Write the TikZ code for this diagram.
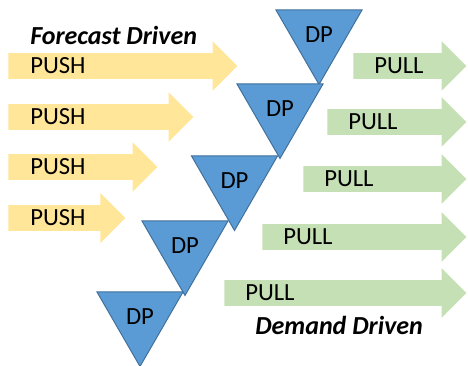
\documentclass[tikz,border=0pt]{standalone}
\usepackage{fontspec}
\setmainfont{Carlito}
\usetikzlibrary{shapes,arrows,positioning}
\definecolor{pushyellow}{HTML}{FFE699}
\definecolor{pullgreen}{HTML}{C5E0B4}
\definecolor{dpblue}{HTML}{5B9BD5}
\definecolor{dpedge}{HTML}{41719C}

\begin{document}
\begin{tikzpicture}[x=0.75pt, y=-0.75pt,
    flow/.style={single arrow, single arrow head extend=9pt, single arrow head indent=0pt,
        inner xsep=0pt, inner ysep=9.375pt, anchor=tail, minimum height=#1*0.75pt},
    push/.style={flow=#1, fill=pushyellow},
    pull/.style={flow=#1, fill=pullgreen},
    word/.style={inner sep=0pt, anchor=west, font=\fontsize{18.5}{20}\selectfont},
    dp/.style={regular polygon, regular polygon sides=3, shape border rotate=180,
        minimum size=74.5pt, inner sep=0pt, draw=dpedge, line width=0.75pt, fill=dpblue,
        font=\fontsize{18.5}{20}\selectfont},
    heading/.style={inner sep=0pt, anchor=west, font=\fontsize{19.5}{22}\selectfont\bfseries\itshape}]
    \useasboundingbox (0,0) rectangle (468,365);

    % push side
    \node[push=229] (push1) at (8,66) {};
    \node[push=185] (push2) at (8,117) {};
    \node[push=149] (push3) at (8,167) {};
    \node[push=117] (push4) at (8,218) {};
    \node[word] (pushtxt1) at ([xshift=16.5pt]push1.tail) {PUSH};
    \node[word] (pushtxt2) at ([xshift=16.5pt]push2.tail) {PUSH};
    \node[word] (pushtxt3) at ([xshift=16.5pt]push3.tail) {PUSH};
    \node[word] (pushtxt4) at ([xshift=16.5pt]push4.tail) {PUSH};

    % pull side
    \node[pull=113] (pull1) at (353,66) {};
    \node[pull=139] (pull2) at (327,122) {};
    \node[pull=163] (pull3) at (303,179) {};
    \node[pull=204] (pull4) at (262,237) {};
    \node[pull=242] (pull5) at (224,293) {};
    \node[word] (pulltxt1) at ([xshift=15.75pt]pull1.tail) {PULL};
    \node[word] (pulltxt2) at ([xshift=15.75pt]pull2.tail) {PULL};
    \node[word] (pulltxt3) at ([xshift=15.75pt]pull3.tail) {PULL};
    \node[word] (pulltxt4) at ([xshift=15.75pt]pull4.tail) {PULL};
    \node[word] (pulltxt5) at ([xshift=15.75pt]pull5.tail) {PULL};

    % decoupling points
    \node[dp] (dp1) at (319,34.8) {DP};
    \node[dp] (dp2) at (280,108.8) {DP};
    \node[dp] (dp3) at (234.5,180.8) {DP};
    \node[dp] (dp4) at (185,245.8) {DP};
    \node[dp] (dp5) at (140,316.8) {DP};

    \node[heading] (forecast) at (30,35.5) {Forecast Driven};
    \node[heading] (demand) at (255,325) {Demand Driven};
\end{tikzpicture}
\end{document}
